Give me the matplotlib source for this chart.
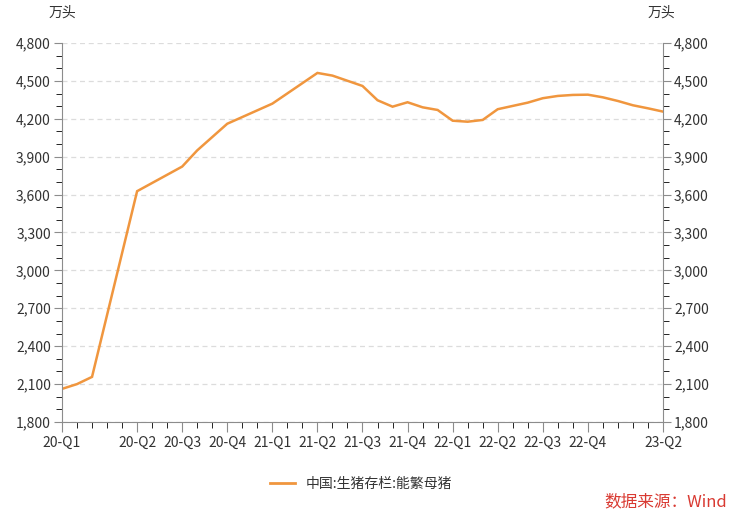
import matplotlib.pyplot as plt
import numpy as np
from matplotlib.lines import Line2D
from matplotlib.ticker import MultipleLocator, FuncFormatter

plt.rcParams['font.family'] = ['Noto Sans CJK SC', 'DejaVu Sans']

# month index (0 = first month on the axis) and stock in 10k head
months = [0, 1, 2, 5, 8, 9, 11, 14, 17, 18, 20, 21, 22, 23, 24, 25, 26, 27, 28,
          29, 30, 31, 32, 33, 34, 35, 36, 37, 38, 39, 40]
sows = [2062, 2100, 2157, 3627, 3822, 3950, 4161, 4320, 4563, 4542, 4460, 4347,
        4296, 4331, 4291, 4270, 4185, 4177, 4191, 4276, 4302, 4328, 4363, 4381,
        4389, 4391, 4370, 4341, 4307, 4283, 4257]

tick_pos = [0, 5, 8, 11, 14, 17, 20, 23, 26, 29, 32, 35, 40]
tick_labels = ['20-Q1', '20-Q2', '20-Q3', '20-Q4', '21-Q1', '21-Q2', '21-Q3',
               '21-Q4', '22-Q1', '22-Q2', '22-Q3', '22-Q4', '23-Q2']

LINE = '#F0963E'
AXC = '#8c8c8c'
TXT = '#333333'

fig = plt.figure(figsize=(7.37, 5.12), dpi=100)
ax = fig.add_axes([0.0841, 0.1758, 0.8155, 0.7402])

ax.plot(months, sows, color=LINE, lw=1.8, solid_joinstyle='miter')

ax.set_xlim(0, 40)
ax.set_ylim(1800, 4800)
ax.yaxis.set_major_locator(MultipleLocator(300))
ax.yaxis.set_minor_locator(MultipleLocator(100))
ax.yaxis.set_major_formatter(FuncFormatter(lambda v, p: f'{int(v):,}'))
ax.set_xticks(tick_pos)
ax.set_xticklabels(tick_labels)
ax.set_xticks(np.arange(0, 41), minor=True)

ax.grid(axis='y', which='major', color='#dcdcdc', ls=(0, (4, 3)), lw=0.9)
ax.set_axisbelow(True)

for s in ['top', 'right']:
    ax.spines[s].set_visible(False)
for s in ['left', 'bottom']:
    ax.spines[s].set_color(AXC)

ax.tick_params(axis='both', colors=AXC, labelcolor=TXT, labelsize=10)
ax.tick_params(axis='y', which='major', length=6, pad=2)
ax.tick_params(axis='y', which='minor', length=4)
ax.tick_params(axis='x', which='major', length=7, pad=3)
ax.tick_params(axis='x', which='minor', length=4)

ax2 = ax.twinx()
ax2.set_ylim(ax.get_ylim())
ax2.yaxis.set_major_locator(MultipleLocator(300))
ax2.yaxis.set_minor_locator(MultipleLocator(100))
ax2.yaxis.set_major_formatter(FuncFormatter(lambda v, p: f'{int(v):,}'))
for s in ['top', 'left', 'bottom']:
    ax2.spines[s].set_visible(False)
ax2.spines['right'].set_color(AXC)
ax2.tick_params(axis='y', colors=AXC, labelcolor=TXT, labelsize=10)
ax2.tick_params(axis='y', which='major', length=6, pad=2)
ax2.tick_params(axis='y', which='minor', length=4)

fig.text(0.0665, 0.975, '万头', fontsize=10, color=TXT, ha='left', va='center')
fig.text(0.879, 0.975, '万头', fontsize=10, color=TXT, ha='left', va='center')

handle = Line2D([], [], color=LINE, lw=2)
fig.legend([handle], ['中国:生猪存栏:能繁母猪'], loc='center', bbox_to_anchor=(0.49, 0.055),
           frameon=False, fontsize=10, handlelength=1.8, labelcolor=TXT)

fig.text(0.986, 0.02, '数据来源：Wind', fontsize=12, color='#d93a32', ha='right', va='center')

fig.savefig('out.png', dpi=100)
